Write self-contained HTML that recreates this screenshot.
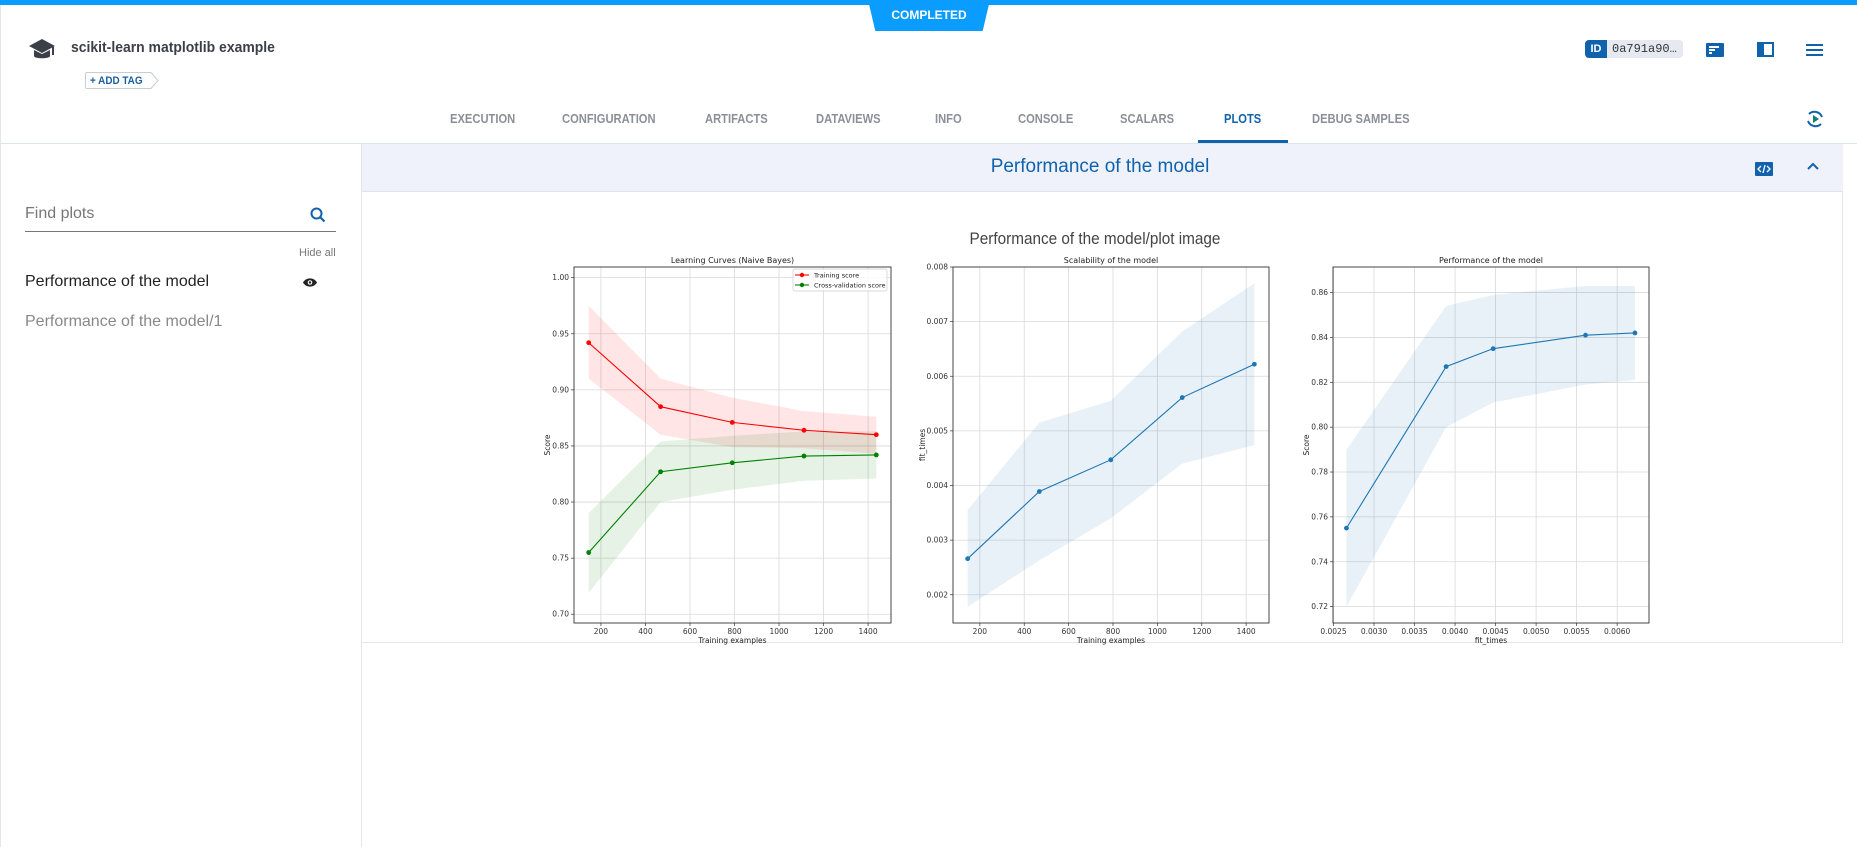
<!DOCTYPE html>
<html><head><meta charset="utf-8"><style>
*{margin:0;padding:0;box-sizing:border-box}
body{width:1857px;height:847px;position:relative;background:#fff;font-family:"Liberation Sans",sans-serif;overflow:hidden}
.a{position:absolute}
.tab{position:absolute;top:111px;font-size:13px;color:#8a8f98;font-weight:bold;transform:scaleX(.86);transform-origin:0 0;white-space:nowrap}
svg text{font-family:"DejaVu Sans",sans-serif}
</style></head><body>
<div class="a" style="left:0;top:0;width:1857px;height:5px;background:#0a9cff"></div>
<div class="a" style="left:868px;top:0;width:122px;height:31px;background:#0a9cff;clip-path:polygon(0 0,100% 0,94% 100%,6% 100%)"></div>
<div class="a" style="left:868px;top:8px;width:122px;text-align:center;color:#fff;font-size:12px;font-weight:bold">COMPLETED</div>
<div class="a" style="left:0;top:5px;width:1px;height:842px;background:#e3e6ee"></div>
<svg class="a" style="left:28px;top:38px" width="28" height="24" viewBox="0 0 28 24"><path d="M14 1L27 8 14 15 1 8Z" fill="#3a3f48"/><path d="M6 12v6c0 3 16 3 16 0v-6l-8 4z" fill="#3a3f48"/><rect x="24" y="9" width="2" height="8" fill="#3a3f48"/></svg>
<div class="a" style="left:71px;top:39px;font-size:15px;color:#3a3f48;font-weight:bold;transform:scaleX(.93);transform-origin:0 0;white-space:nowrap">scikit-learn matplotlib example</div>
<div class="a" style="left:85px;top:72px;width:66px;height:17px;border:1px solid #c7ccd6;border-right:none;border-radius:2px 0 0 2px"></div>
<svg class="a" style="left:150px;top:72px" width="10" height="17"><path d="M0 0.5L1 0.5 8 8.5 1 16.5 0 16.5" fill="#fff" stroke="#c7ccd6"/></svg>
<div class="a" style="left:90px;top:75px;font-size:11px;color:#1a5fa0;font-weight:bold;transform:scaleX(.9);transform-origin:0 0">+ ADD TAG</div>
<div class="a" style="left:1585px;top:40px;width:98px;height:18px;background:#e6e9f1;border-radius:4px"></div>
<div class="a" style="left:1585px;top:40px;width:22px;height:18px;background:#1062ad;border-radius:4px 0 0 4px;color:#fff;font-size:11px;font-weight:bold;text-align:center;line-height:18px">ID</div>
<div class="a" style="left:1612px;top:42px;font-family:'Liberation Mono',monospace;font-size:12px;color:#333">0a791a90…</div>
<svg class="a" style="left:1706px;top:43px" width="18" height="14"><rect width="18" height="14" rx="1" fill="#1062ad"/><rect x="3" y="3" width="10" height="2" fill="#fff"/><rect x="3" y="6" width="6" height="2" fill="#fff"/><rect x="3" y="9" width="3" height="2" fill="#fff"/></svg>
<svg class="a" style="left:1757px;top:42px" width="17" height="15"><rect x="1" y="1" width="15" height="13" fill="none" stroke="#1062ad" stroke-width="2"/><rect x="1" y="1" width="6" height="13" fill="#1062ad"/></svg>
<svg class="a" style="left:1806px;top:44px" width="17" height="12"><rect y="0" width="17" height="2" fill="#1062ad"/><rect y="5" width="17" height="2" fill="#1062ad"/><rect y="10" width="17" height="2" fill="#1062ad"/></svg>
<div class="tab" style="left:450px">EXECUTION</div>
<div class="tab" style="left:562px">CONFIGURATION</div>
<div class="tab" style="left:705px">ARTIFACTS</div>
<div class="tab" style="left:816px">DATAVIEWS</div>
<div class="tab" style="left:935px">INFO</div>
<div class="tab" style="left:1018px">CONSOLE</div>
<div class="tab" style="left:1120px">SCALARS</div>
<div class="tab" style="left:1224px;color:#1062ad">PLOTS</div>
<div class="tab" style="left:1312px">DEBUG SAMPLES</div>
<div class="a" style="left:1198px;top:140px;width:90px;height:3px;background:#1062ad"></div>
<svg class="a" style="left:1805px;top:109px" width="20" height="20" viewBox="0 0 20 20"><path d="M4 5A8 8 0 0 1 17 8M16 15A8 8 0 0 1 3 12" fill="none" stroke="#1062ad" stroke-width="2"/><path d="M8 6l6 4-6 4z" fill="#12806a"/></svg>
<div class="a" style="left:0;top:143px;width:1857px;height:1px;background:#dfe3ec"></div>
<div class="a" style="left:361px;top:143px;width:1px;height:704px;background:#e3e6ee"></div>
<div class="a" style="left:25px;top:205px;font-size:16px;color:#777">Find plots</div>
<svg class="a" style="left:310px;top:207px" width="16" height="16"><circle cx="6.5" cy="6.5" r="5" fill="none" stroke="#1062ad" stroke-width="2"/><path d="M10 10l4.5 4.5" stroke="#1062ad" stroke-width="2.2"/></svg>
<div class="a" style="left:25px;top:231px;width:311px;height:1px;background:#777"></div>
<div class="a" style="left:299px;top:247px;font-size:11px;color:#777">Hide all</div>
<div class="a" style="left:25px;top:273px;font-size:16px;color:#222">Performance of the model</div>
<svg class="a" style="left:302px;top:277px" width="16" height="11"><path d="M1 5.5C4 0 12 0 15 5.5 12 11 4 11 1 5.5Z" fill="#222"/><circle cx="8" cy="5.5" r="2.3" fill="#fff"/><circle cx="8" cy="5.5" r="1.2" fill="#222"/></svg>
<div class="a" style="left:25px;top:313px;font-size:16px;color:#888">Performance of the model/1</div>
<div class="a" style="left:362px;top:144px;width:1481px;height:48px;background:#eff2fa;border-bottom:1px solid #dfe3ec"></div>
<div class="a" style="left:362px;top:156px;width:1476px;text-align:center;font-size:19px;color:#1062ad">Performance of the model</div>
<svg class="a" style="left:1755px;top:162px" width="18" height="14"><rect width="18" height="14" rx="1" fill="#1062ad"/><path d="M6 4L3 7 6 10M12 4l3 3-3 3M10 3L8 11" fill="none" stroke="#fff" stroke-width="1.3"/></svg>
<svg class="a" style="left:1807px;top:162px" width="12" height="8"><path d="M1 7l5-5 5 5" fill="none" stroke="#1062ad" stroke-width="2"/></svg>
<div class="a" style="left:362px;top:192px;width:1481px;height:451px;border-bottom:1px solid #e3e6ee;border-right:1px solid #e3e6ee"></div>
<div class="a" style="left:345px;top:229px;width:1500px;text-align:center;font-size:17px;color:#444;transform:scaleX(.9);transform-origin:50% 0">Performance of the model/plot image</div>
<svg id="ch" class="a" style="left:0;top:0" width="1857" height="847"></svg>
<script>
var s='';
function axes(o){
 var X=function(v){return o.x0+(v-o.xa)/(o.xb-o.xa)*(o.x1-o.x0)};
 var Y=function(v){return o.y1-(v-o.ya)/(o.yb-o.ya)*(o.y1-o.y0)};
 o.xt.forEach(function(t){var x=X(t);s+='<line x1="'+x+'" y1="'+o.y0+'" x2="'+x+'" y2="'+o.y1+'" stroke="#d9d9d9" stroke-width="0.8"/>';
  s+='<line x1="'+x+'" y1="'+o.y1+'" x2="'+x+'" y2="'+(o.y1+3)+'" stroke="#333" stroke-width="0.7"/>';
  s+='<text x="'+x+'" y="'+(o.y1+11)+'" font-size="7.5" fill="#333" text-anchor="middle">'+o.xf(t)+'</text>';});
 o.yt.forEach(function(t){var y=Y(t);s+='<line x1="'+o.x0+'" y1="'+y+'" x2="'+o.x1+'" y2="'+y+'" stroke="#d9d9d9" stroke-width="0.8"/>';
  s+='<line x1="'+(o.x0-3)+'" y1="'+y+'" x2="'+o.x0+'" y2="'+y+'" stroke="#333" stroke-width="0.7"/>';
  s+='<text x="'+(o.x0-5)+'" y="'+(y+2.5)+'" font-size="7.5" fill="#333" text-anchor="end">'+o.yf(t)+'</text>';});
 o.series.forEach(function(r){
  var up=r.x.map(function(v,i){return X(v)+','+Y(r.hi[i])}),lo=r.x.map(function(v,i){return X(v)+','+Y(r.lo[i])}).reverse();
  s+='<polygon points="'+up.concat(lo).join(' ')+'" fill="'+r.f+'" fill-opacity="'+r.o+'"/>';});
 o.series.forEach(function(r){
  var p=r.x.map(function(v,i){return X(v)+','+Y(r.y[i])});
  s+='<polyline points="'+p.join(' ')+'" fill="none" stroke="'+r.c+'" stroke-width="1.1"/>';
  p.forEach(function(q){var a=q.split(',');s+='<circle cx="'+a[0]+'" cy="'+a[1]+'" r="2.4" fill="'+r.c+'"/>';});});
 s+='<rect x="'+o.x0+'" y="'+o.y0+'" width="'+(o.x1-o.x0)+'" height="'+(o.y1-o.y0)+'" fill="none" stroke="#333" stroke-width="0.9"/>';
 s+='<text x="'+(o.x0+o.x1)/2+'" y="'+(o.y0-4)+'" font-size="8" fill="#222" text-anchor="middle">'+o.t+'</text>';
 s+='<text x="'+(o.x0+o.x1)/2+'" y="'+(o.y1+20)+'" font-size="7.5" fill="#222" text-anchor="middle">'+o.xl+'</text>';
 var cy=(o.y0+o.y1)/2;s+='<text x="'+(o.x0-o.yo)+'" y="'+cy+'" font-size="7.5" fill="#222" text-anchor="middle" transform="rotate(-90 '+(o.x0-o.yo)+' '+cy+')">'+o.yl+'</text>';
}
var xs=[145,468,790,1112,1437];
var f2=function(v){return v.toFixed(2)},f0=function(v){return v};
axes({x0:574,x1:891,y0:267,y1:623,xa:79,xb:1503,ya:0.6922,yb:1.0095,
 xt:[200,400,600,800,1000,1200,1400],yt:[0.70,0.75,0.80,0.85,0.90,0.95,1.00],xf:f0,yf:f2,
 t:'Learning Curves (Naive Bayes)',xl:'Training examples',yl:'Score',yo:24,
 series:[{x:xs,y:[0.942,0.885,0.871,0.864,0.860],hi:[0.975,0.910,0.893,0.881,0.876],lo:[0.910,0.860,0.849,0.848,0.843],c:'#ff0000',f:'#ff0000',o:0.1},
 {x:xs,y:[0.755,0.827,0.835,0.841,0.842],hi:[0.790,0.854,0.859,0.863,0.863],lo:[0.719,0.800,0.811,0.819,0.821],c:'#008000',f:'#008000',o:0.1}]});
axes({x0:953,x1:1269,y0:267,y1:623,xa:79,xb:1503,ya:0.001483,yb:0.008,
 xt:[200,400,600,800,1000,1200,1400],yt:[0.002,0.003,0.004,0.005,0.006,0.007,0.008],xf:f0,yf:function(v){return v.toFixed(3)},
 t:'Scalability of the model',xl:'Training examples',yl:'fit_times',yo:28,
 series:[{x:xs,y:[0.00266,0.00389,0.00447,0.00561,0.00622],hi:[0.00355,0.00515,0.00555,0.00682,0.00770],lo:[0.00178,0.00263,0.00340,0.00440,0.00474],c:'#1f77b4',f:'#1f77b4',o:0.1}]});
axes({x0:1333,x1:1649,y0:267,y1:623,xa:0.002494,xb:0.006393,ya:0.7127,yb:0.8714,
 xt:[0.0025,0.003,0.0035,0.004,0.0045,0.005,0.0055,0.006],yt:[0.72,0.74,0.76,0.78,0.80,0.82,0.84,0.86],xf:function(v){return v.toFixed(4)},yf:f2,
 t:'Performance of the model',xl:'fit_times',yl:'Score',yo:24,
 series:[{x:[0.00266,0.00389,0.00447,0.00561,0.00622],y:[0.755,0.827,0.835,0.841,0.842],hi:[0.790,0.854,0.859,0.863,0.863],lo:[0.720,0.800,0.811,0.819,0.821],c:'#1f77b4',f:'#1f77b4',o:0.1}]});
s+='<rect x="793" y="269" width="94" height="22" rx="2" fill="#fff" fill-opacity="0.85" stroke="#ccc" stroke-width="0.7"/>';
s+='<line x1="795" y1="275" x2="809" y2="275" stroke="#f00" stroke-width="1.1"/><circle cx="802" cy="275" r="2.2" fill="#f00"/><text x="814" y="277.5" font-size="6.5" fill="#222">Training score</text>';
s+='<line x1="795" y1="285" x2="809" y2="285" stroke="#008000" stroke-width="1.1"/><circle cx="802" cy="285" r="2.2" fill="#008000"/><text x="814" y="287.5" font-size="6.5" fill="#222">Cross-validation score</text>';
document.getElementById('ch').innerHTML=s;
</script>
</body></html>
